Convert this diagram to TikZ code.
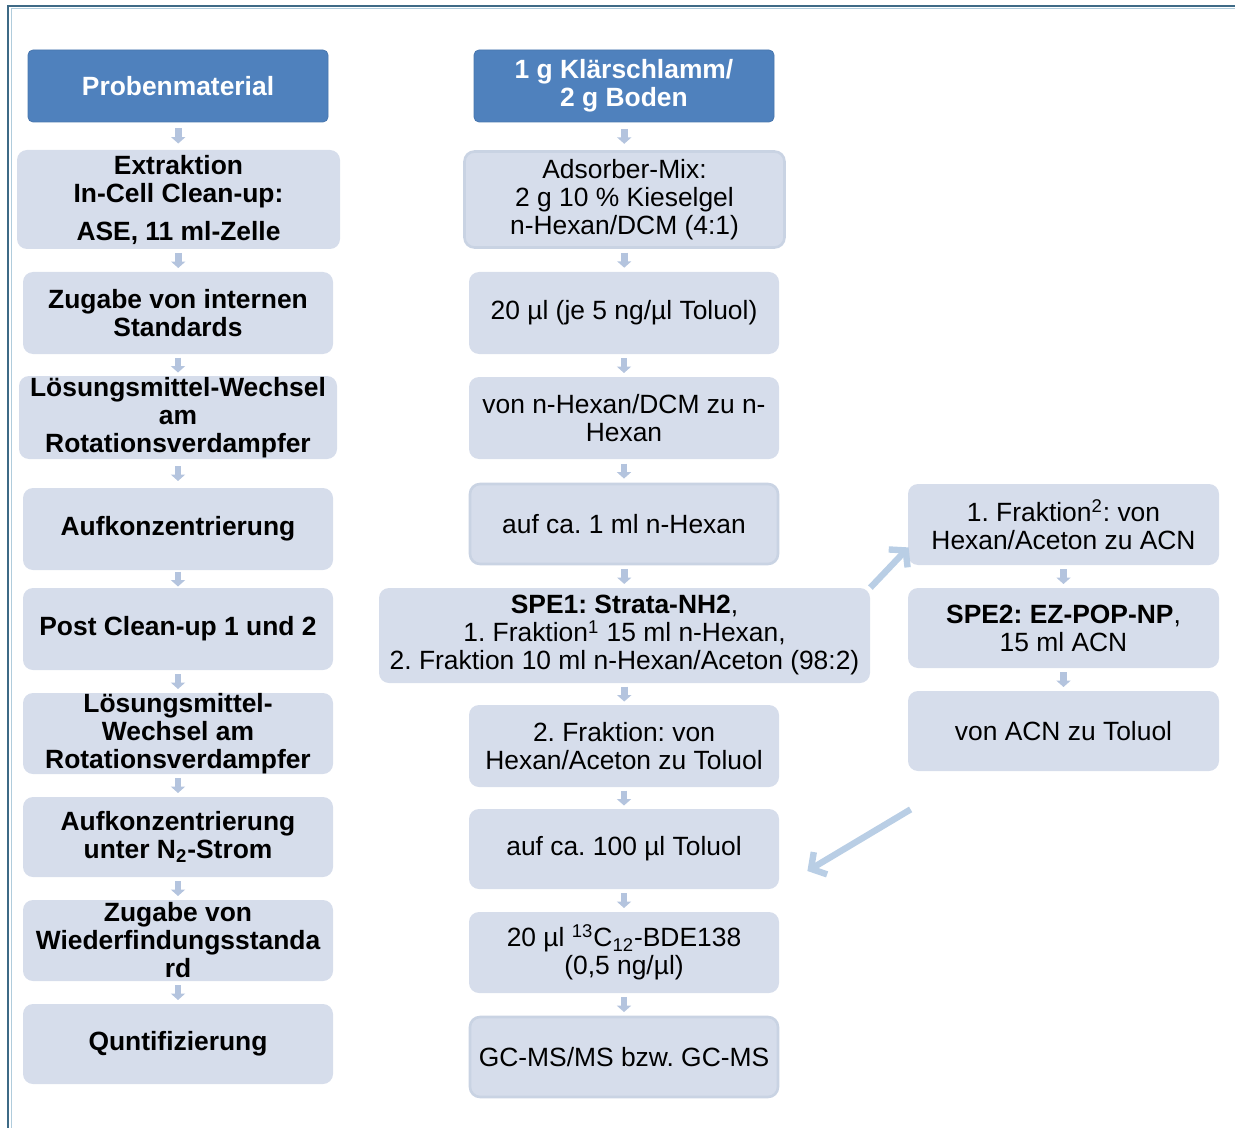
\documentclass[tikz,border=0pt]{standalone}
\usepackage{fontspec}
\setmainfont{Liberation Sans}
\usepackage{xcolor}
\usepackage{tikz}
\usetikzlibrary{arrows.meta,positioning,calc}
\frenchspacing

\begin{document}
\begin{tikzpicture}[
  x=0.5pt, y=-0.5pt,
  pBlue/.style={rectangle, rounded corners=2.5pt,
    minimum width=150pt, minimum height=36pt, inner sep=0pt,
    align=center,
    fill={rgb,255:red,79;green,129;blue,189},
    draw={rgb,255:red,72;green,118;blue,174},
    line width=0.4pt, text=white,
    font=\fontsize{13.2}{14}\selectfont\bfseries},
  pBox/.style={rectangle, rounded corners=5pt,
    minimum width=155pt, minimum height=41pt, inner sep=0pt,
    align=center,
    fill={rgb,255:red,214;green,221;blue,235},
    draw=none, font=\fontsize{13.2}{14}\selectfont},
  pBold/.style={pBox, font=\fontsize{13.2}{14}\selectfont\bfseries},
  pEdge/.style={draw={rgb,255:red,201;green,211;blue,227},
    line width=1.3pt},
  sarr/.style={-{Triangle[length=3.2pt,width=7pt]},
    line width=3.3pt,
    color={rgb,255:red,180;green,196;blue,222}},
  barr/.style={-{Straight Barb[length=5.5pt,width=13pt]},
    line width=3.2pt,
    color={rgb,255:red,185;green,206;blue,229}},
  frame/.style={line width=1.4pt,
    color={rgb,255:red,62;green,106;blue,134}},
  frameLt/.style={line width=0.5pt,
    color={rgb,255:red,176;green,204;blue,220}},
]
  \useasboundingbox (0,0) rectangle (1235,1128);

  %% ── Frame ───────────────────────────────────────────────────
  \draw[frameLt] (11,1128) -- (11,9) -- (1235,9);
  \draw[frame] (8,1128) -- (8,6) -- (1235,6);

  %% ── Left column ─────────────────────────────────────────────
  \node[pBlue] (prob) at (178,86) {Probenmaterial};
  \node[pBold, minimum width=161.5pt, minimum height=49.5pt]
    (extr) at (178.5,199.5) {%
    Extraktion\\
    In-Cell Clean-up:\\[5pt]
    ASE, 11 ml-Zelle};
  \node[pBold] (zug) at (178,313) {%
    Zugabe von internen\\Standards};
  \node[pBold, minimum width=159pt, minimum height=41.5pt]
    (lmwA) at (178,417.5) {%
    Lösungsmittel-Wechsel\\am\\Rotationsverdampfer};
  \node[pBold] (aufk) at (178,529) {Aufkonzentrierung};
  \node[pBold] (post) at (178,629) {Post Clean-up 1 und 2};
  \node[pBold, minimum height=40.5pt] (lmwB) at (178,733.5) {%
    Lösungsmittel-\\Wechsel am\\Rotationsverdampfer};
  \node[pBold, minimum height=40pt] (aufn) at (178,837) {%
    Aufkonzentrierung\\unter N\textsubscript{2}-Strom};
  \node[pBold, minimum height=40.5pt] (wied) at (178,940.5) {%
    Zugabe von\\Wiederfindungsstanda\\rd};
  \node[pBold, minimum height=40pt] (quant) at (178,1044) {%
    Quntifizierung};

  %% ── Middle column ───────────────────────────────────────────
  \node[pBlue] (probe) at (624,86) {%
    1 g Klärschlamm/\\2 g Boden};
  \node[pBox, pEdge, minimum width=160pt, minimum height=48pt]
    (adsm) at (624.5,199.5) {%
    Adsorber-Mix:\\
    2 g 10 \% Kieselgel\\
    n-Hexan/DCM (4:1)};
  \node[pBox] (istd) at (624,313) {%
    20 µl (je 5 ng/µl Toluol)};
  \node[pBox] (wech) at (624,418) {%
    von n-Hexan/DCM zu n-\\Hexan};
  \node[pBox, pEdge, minimum width=154pt, minimum height=40pt]
    (konz) at (624,524) {auf ca. 1 ml n-Hexan};
  \node[pBox, minimum width=245.5pt, minimum height=47.5pt]
    (spe) at (624.5,635.5) {%
    \textbf{SPE1: Strata-NH2},\\
    1. Fraktion\textsuperscript{1} 15 ml n-Hexan,\\
    2. Fraktion 10 ml n-Hexan/Aceton (98:2)};
  \node[pBox] (frakB) at (624,746) {%
    2. Fraktion: von\\Hexan/Aceton zu Toluol};
  \node[pBox, minimum height=40pt] (tol) at (624,849) {%
    auf ca. 100 µl Toluol};
  \node[pBox, minimum height=40.5pt] (bde) at (624,952.5) {%
    20 µl \textsuperscript{13}C\textsubscript{12}-BDE138\\
    (0,5 ng/µl)};
  \node[pBox, pEdge, minimum width=154pt, minimum height=40pt]
    (gcms) at (624,1057) {GC-MS/MS bzw. GC-MS};

  %% ── Right column ────────────────────────────────────────────
  \node[pBox, minimum width=155.5pt, minimum height=40.5pt]
    (frakA) at (1063.5,524.5) {%
    1. Fraktion\textsuperscript{2}: von\\Hexan/Aceton zu ACN};
  \node[pBox, minimum width=155.5pt, minimum height=40pt]
    (speB) at (1063.5,628) {%
    \textbf{SPE2: EZ-POP-NP},\\15 ml ACN};
  \node[pBox, minimum width=155.5pt, minimum height=40pt]
    (acn) at (1063.5,731) {von ACN zu Toluol};

  %% ── Arrows ──────────────────────────────────────────────────
  \foreach \f/\t in {prob/extr, extr/zug, zug/lmwA, lmwA/aufk,
      aufk/post, post/lmwB, lmwB/aufn, aufn/wied, wied/quant,
      probe/adsm, adsm/istd, istd/wech, wech/konz, konz/spe,
      spe/frakB, frakB/tol, tol/bde, bde/gcms,
      frakA/speB, speB/acn}
    \draw[sarr] ($(\f.south)!0.5!(\t.north)+(0,-7.5)$) -- ++(0,15);

  \draw[barr] (spe.north east) -- ([shift={(1,-18)}]frakA.south west);
  \draw[barr] ([shift={(3,38)}]acn.south west)
    -- ([shift={(28,22)}]tol.east);

\end{tikzpicture}
\end{document}
